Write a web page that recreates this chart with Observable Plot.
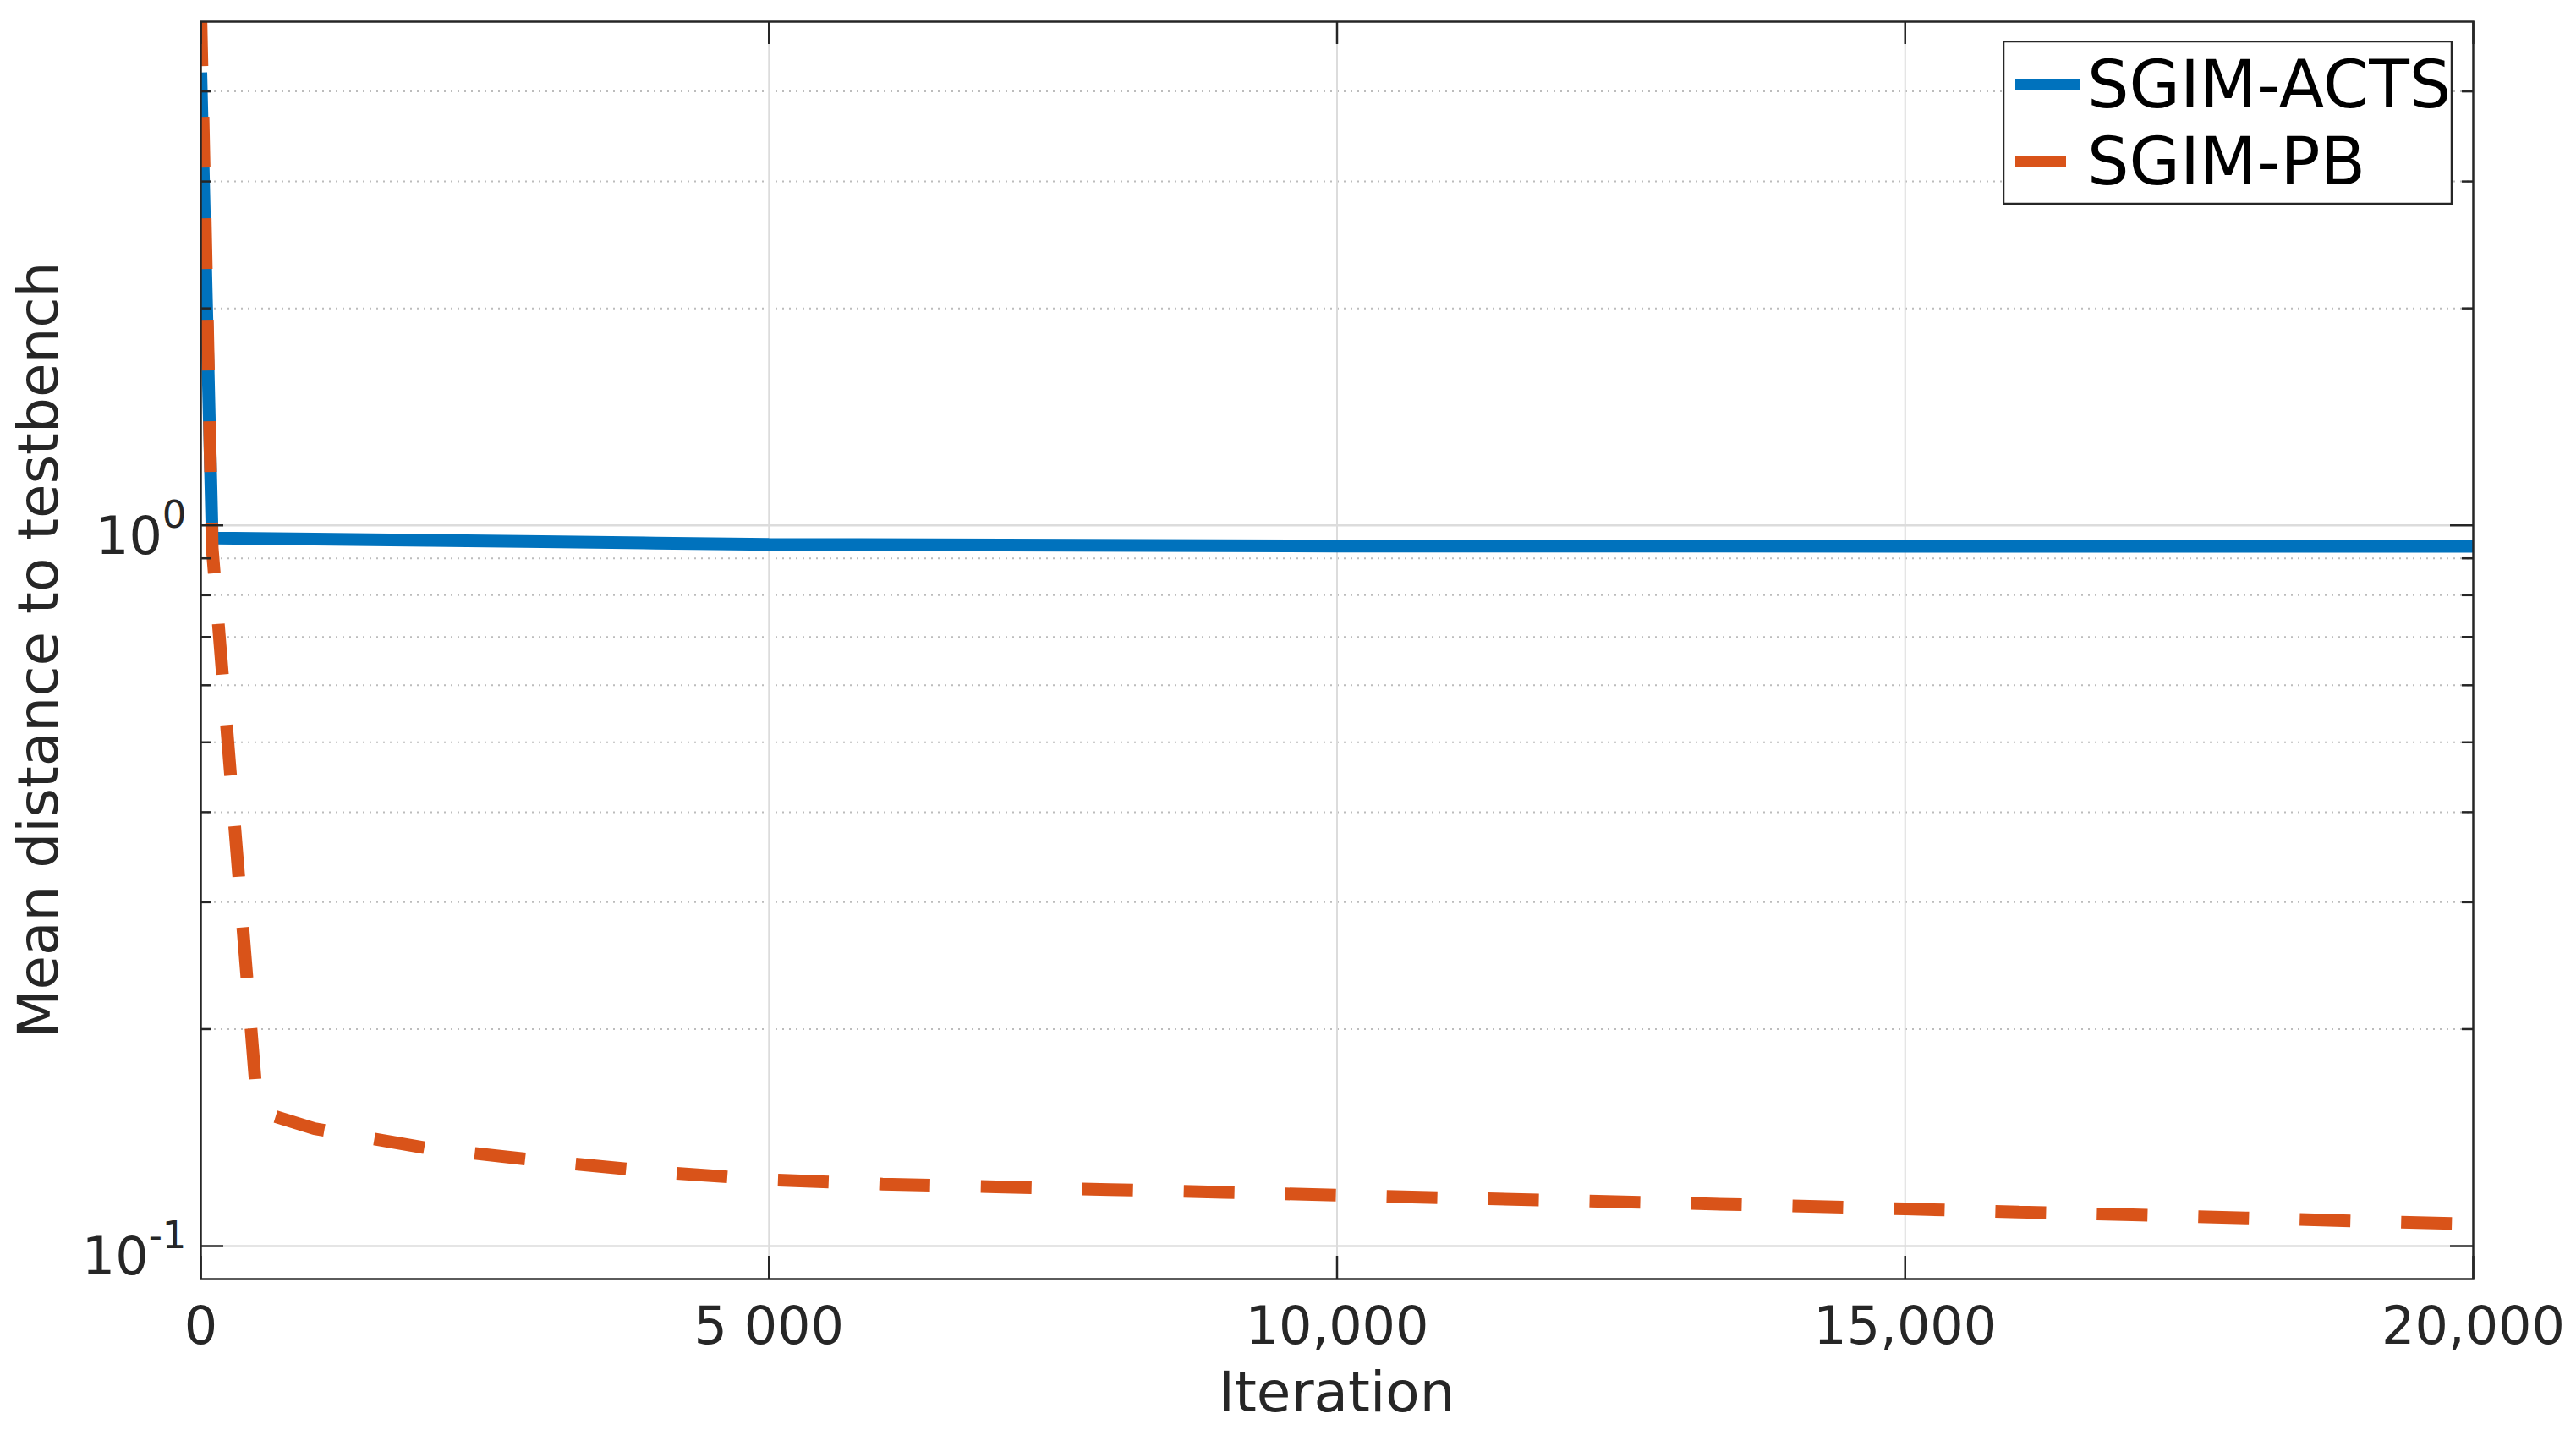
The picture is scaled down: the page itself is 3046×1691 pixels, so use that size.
<!DOCTYPE html>
<html>
<head>
<meta charset="utf-8">
<script src="https://cdn.jsdelivr.net/npm/d3@7"></script>
<script src="https://cdn.jsdelivr.net/npm/@observablehq/plot@0.6"></script>
<style>
html, body { margin: 0; padding: 0; background: #fff; }
#wrap { position: relative; width: 3046px; height: 1691px; font-family: "DejaVu Sans", sans-serif; }
#legend { position: absolute; left: 2368px; top: 48px; }
</style>
</head>
<body>
<div id="wrap"></div>
<script>
// ---- data ----
const seriesNames = ["SGIM-ACTS", "SGIM-PB"];
const seriesColors = ["#0072BD", "#D95319"];

const actsIter  = [0, 100, 1000, 2000, 3000, 4000, 5000, 10000, 15000, 20000];
const actsValue = [4.25, 0.96, 0.957, 0.953, 0.949, 0.945, 0.941, 0.936, 0.9355, 0.9355];

const pbIter  = [0, 100, 500, 1000, 2000, 3000, 4000, 5000, 6000, 7000, 8000, 9000, 10000,
                 11000, 12000, 13000, 14000, 15000, 16000, 17000, 18000, 19000, 20000];
const pbValue = [5.1, 0.93, 0.154, 0.1455, 0.1367, 0.1313, 0.1268, 0.1236, 0.1219, 0.1208, 0.1198, 0.1187, 0.1177,
                 0.1166, 0.1157, 0.1147, 0.1137, 0.1126, 0.1115, 0.1105, 0.1094, 0.1083, 0.1073];

const xTicks = [0, 5000, 10000, 15000, 20000];
const xTickLabels = ["0", "5 000", "10,000", "15,000", "20,000"];
const yMajorTicks = [0.1, 1];
const yMajorExponents = ["-1", "0"];
const yMinorTicks = [0.2, 0.3, 0.4, 0.5, 0.6, 0.7, 0.8, 0.9, 2, 3, 4];
const xLabel = "Iteration";
const yLabel = "Mean distance to testbench";

// ---- layout ----
const W = 3046, H = 1691;
const mL = 237, mR = 122, mT = 25, mB = 179;
const pw = W - mL - mR, ph = H - mT - mB;
const ink = "#262626";

const acts = actsIter.map((x, i) => ({iter: x, value: actsValue[i]}));
const pb = pbIter.map((x, i) => ({iter: x, value: pbValue[i]}));

const chart = Plot.plot({
  width: W, height: H,
  marginLeft: mL, marginRight: mR, marginTop: mT, marginBottom: mB,
  style: {fontFamily: '"DejaVu Sans", sans-serif', color: ink, background: "white", overflow: "visible"},
  x: {domain: [0, 20000]},
  y: {type: "log", domain: [0.09, 5]},
  marks: [
    Plot.ruleY(yMinorTicks, {stroke: "#bcbcbc", strokeWidth: 2, strokeDasharray: "2,6"}),
    Plot.ruleY(yMajorTicks, {stroke: "#dcdcdc", strokeWidth: 2.5}),
    Plot.ruleX(xTicks.slice(1, -1), {stroke: "#dcdcdc", strokeWidth: 2}),
    Plot.line(acts, {x: "iter", y: "value", stroke: seriesColors[0], strokeWidth: 15,
      strokeLinecap: "butt", strokeLinejoin: "miter", clip: true}),
    Plot.line(pb, {x: "iter", y: "value", stroke: seriesColors[1], strokeWidth: 15,
      strokeDasharray: "60,60", strokeLinecap: "butt", strokeLinejoin: "miter", clip: true}),
    // inward ticks (left, right, bottom, top)
    Plot.tickY(yMajorTicks, {y: d => d, stroke: ink, strokeWidth: 2.5, insetRight: pw - 27}),
    Plot.tickY(yMajorTicks, {y: d => d, stroke: ink, strokeWidth: 2.5, insetLeft: pw - 27}),
    Plot.tickY(yMinorTicks, {y: d => d, stroke: ink, strokeWidth: 2.5, insetRight: pw - 13}),
    Plot.tickY(yMinorTicks, {y: d => d, stroke: ink, strokeWidth: 2.5, insetLeft: pw - 13}),
    Plot.tickX(xTicks, {x: d => d, stroke: ink, strokeWidth: 2.5, insetTop: ph - 27}),
    Plot.tickX(xTicks, {x: d => d, stroke: ink, strokeWidth: 2.5, insetBottom: ph - 27}),
    Plot.frame({stroke: ink, strokeWidth: 2.5}),
    Plot.axisX(xTicks, {tickSize: 0, tickPadding: 32, fontSize: 62, label: null,
      tickFormat: d => xTickLabels[xTicks.indexOf(d)]}),
    Plot.axisY(yMajorTicks, {tickSize: 0, tickPadding: 17, fontSize: 62, label: null,
      tickFormat: d => "10^" + yMajorExponents[yMajorTicks.indexOf(d)]})
  ]
});

// superscript exponents on y tick labels
d3.select(chart).selectAll('g[aria-label="y-axis tick label"] text').each(function() {
  const [base, exp] = this.textContent.split("^");
  const t = d3.select(this);
  t.text(null);
  t.append("tspan").attr("dy", 14).text(base);
  t.append("tspan").attr("dy", -31).attr("font-size", 45).text(exp);
});

// axis titles
const svgSel = d3.select(chart);
svgSel.append("text")
  .attr("x", mL + pw / 2).attr("y", 1669)
  .attr("text-anchor", "middle").attr("font-size", 66).attr("fill", ink)
  .text(xLabel);
svgSel.append("text")
  .attr("transform", `translate(68,${mT + ph / 2}) rotate(-90)`)
  .attr("text-anchor", "middle").attr("font-size", 66).attr("fill", ink)
  .text(yLabel);

const wrap = document.getElementById("wrap");
wrap.appendChild(chart);

// legend
const lg = d3.create("svg").attr("id", "legend").attr("width", 532).attr("height", 194)
  .style("font-family", '"DejaVu Sans", sans-serif');
lg.append("rect").attr("x", 1).attr("y", 1).attr("width", 530).attr("height", 192)
  .attr("fill", "white").attr("stroke", ink).attr("stroke-width", 2.5);
const rowsY = [52, 143];
const sampleLen = [77, 60];
seriesNames.forEach((name, i) => {
  lg.append("line").attr("x1", 15).attr("x2", 15 + sampleLen[i])
    .attr("y1", rowsY[i]).attr("y2", rowsY[i])
    .attr("stroke", seriesColors[i]).attr("stroke-width", 14);
  lg.append("text").attr("x", 100).attr("y", rowsY[i] + 27)
    .attr("font-size", 78).attr("fill", "#000").text(name);
});
wrap.appendChild(lg.node());
</script>
</body>
</html>
